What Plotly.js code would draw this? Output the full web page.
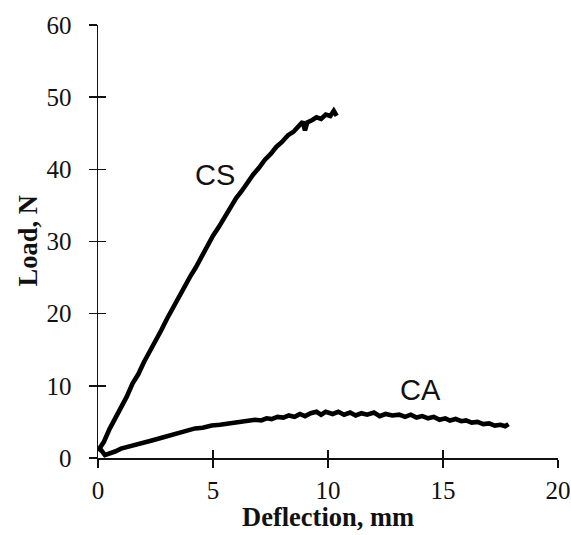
<!DOCTYPE html>
<html>
<head>
<meta charset="utf-8">
<script src="https://cdn.plot.ly/plotly-3.0.1.min.js"></script>
<style>html,body{margin:0;padding:0;background:#fff;}#chart{width:571px;height:535px;}</style>
</head>
<body>
<div id="chart"></div>
<script>
// Curve CS: deflection (mm) and load (N)
const csDeflection = [0.00,0.10,0.25,0.50,0.75,1.00,1.25,1.50,1.75,2.00,2.25,2.50,2.75,3.00,3.25,3.50,3.75,4.00,4.25,4.50,4.75,5.00,5.25,5.50,5.75,6.00,6.25,6.50,6.75,7.00,7.25,7.50,7.75,8.00,8.25,8.50,8.75,8.90,9.00,9.10,9.30,9.50,9.70,9.90,10.10,10.25,10.38];
const csLoad       = [1.0,1.5,2.2,4.0,5.4,7.1,8.5,10.3,11.6,13.3,14.7,16.4,17.7,19.3,20.8,22.2,23.5,25.1,26.4,27.9,29.4,30.8,32.0,33.4,34.8,36.0,37.0,38.2,39.3,40.2,41.3,42.1,43.1,43.8,44.7,45.2,46.0,46.6,45.4,46.5,46.8,47.2,47.0,47.6,47.4,48.1,47.4];

// Curve CA: deflection (mm) and load (N)
const caDeflection = [0.00,0.09,0.30,0.50,0.74,1.00,1.32,1.60,2.04,2.30,2.77,3.10,3.49,3.85,4.22,4.55,4.94,5.30,5.67,6.00,6.39,6.60,6.83,7.10,7.33,7.55,7.80,8.06,8.30,8.55,8.78,9.00,9.25,9.50,9.70,9.90,10.20,10.45,10.70,10.96,11.20,11.45,11.70,12.00,12.25,12.50,12.80,13.10,13.35,13.60,13.85,14.10,14.35,14.60,14.85,15.10,15.30,15.55,15.80,16.00,16.25,16.50,16.75,17.00,17.25,17.50,17.70,17.85];
const caLoad       = [1.0,1.3,0.4,0.6,0.9,1.3,1.6,1.9,2.3,2.4,2.8,3.1,3.4,3.8,4.1,4.2,4.5,4.6,4.8,5.0,5.1,5.2,5.3,5.2,5.5,5.4,5.7,5.6,5.9,5.7,6.1,5.8,6.2,6.4,6.0,6.4,6.1,6.4,6.0,6.3,5.9,6.2,6.0,6.3,5.8,6.1,5.9,6.0,5.7,6.0,5.6,5.8,5.5,5.7,5.3,5.5,5.2,5.4,5.1,5.2,4.9,5.0,4.7,4.8,4.5,4.6,4.4,4.7];

const xTicks = [0,5,10,15,20];
const yTicks = [0,10,20,30,40,50,60];
const xRange = [0,20];
const yRange = [0,60];

const serif = '"Liberation Serif", "Times New Roman", serif';
const sans = '"Liberation Sans", Arial, sans-serif';

const lineStyle = {color:'#000', width:4.6};

const traces = [
  {x: csDeflection, y: csLoad, xaxis:'x', yaxis:'y', type:'scatter', mode:'lines', line: lineStyle, name:'CS', showlegend:false, hoverinfo:'skip'},
  {x: caDeflection, y: caLoad, xaxis:'x2', yaxis:'y2', type:'scatter', mode:'lines', line: lineStyle, name:'CA', showlegend:false, hoverinfo:'skip'}
];

const axisCommon = {
  showgrid:false, zeroline:false, showline:true, linecolor:'#111', linewidth:1.5,
  ticks:'outside', ticklen:8, tickwidth:1.5, tickcolor:'#111',
  tickfont:{family:serif, size:25, color:'#111'}
};
const innerAxis = {
  showticklabels:false, showgrid:false, zeroline:false, showline:false,
  ticks:'inside', ticklen:8, tickwidth:1.5, tickcolor:'#111', tickmode:'array'
};

const layout = {
  width:571, height:535,
  margin:{l:98, r:13, t:25, b:77},
  paper_bgcolor:'#fff', plot_bgcolor:'rgba(0,0,0,0)',
  xaxis: Object.assign({}, axisCommon, {range:xRange, tickmode:'array', tickvals:xTicks, ticktext:xTicks.map(String), ticklabelstandoff:1}),
  yaxis: Object.assign({}, axisCommon, {range:yRange, tickmode:'array', tickvals:yTicks, ticktext:yTicks.map(String), ticklabelstandoff:12}),
  xaxis2: Object.assign({}, innerAxis, {overlaying:'x', anchor:'y2', range:xRange, tickvals:xTicks}),
  yaxis2: Object.assign({}, innerAxis, {overlaying:'y', anchor:'x2', range:yRange, tickvals:yTicks}),
  annotations:[
    {text:'<b>Deflection, mm</b>', xref:'paper', yref:'paper', x:0.5, y:0, xanchor:'center', yanchor:'middle', yshift:-59, showarrow:false, font:{family:serif, size:26.5, color:'#111'}},
    {text:'<b>Load, N</b>', xref:'paper', yref:'paper', x:0, y:0.5, xanchor:'center', yanchor:'middle', xshift:-71, textangle:-90, showarrow:false, font:{family:serif, size:26.5, color:'#111'}},
    {text:'CS', xref:'x', yref:'y', x:5.1, y:39.2, showarrow:false, font:{family:sans, size:29, color:'#111'}},
    {text:'CA', xref:'x', yref:'y', x:14.0, y:9.4, showarrow:false, font:{family:sans, size:29, color:'#111'}}
  ]
};

Plotly.newPlot('chart', traces, layout, {staticPlot:true, displayModeBar:false});
</script>
</body>
</html>
